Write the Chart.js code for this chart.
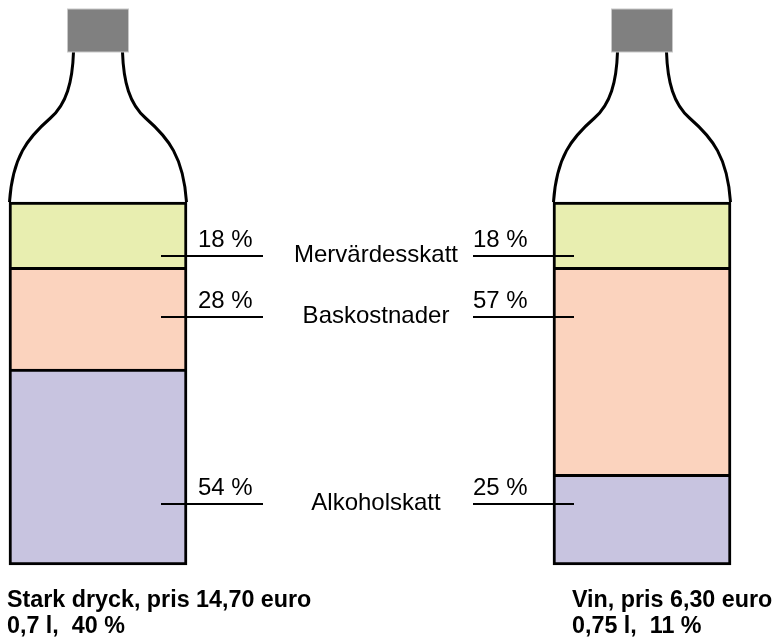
<!DOCTYPE html>
<html>
<head>
<meta charset="utf-8">
<script src="https://cdn.jsdelivr.net/npm/chart.js@4"></script>
<style>
  body { margin: 0; background: #fff; overflow: hidden; }
</style>
</head>
<body>
<canvas id="grafica" width="776" height="637"></canvas>
<script>
// data
var produkter = ['Stark dryck, pris 14,70 euro', 'Vin, pris 6,30 euro']
var detaljer = ['0,7 l,  40 %', '0,75 l,  11 %']
var komponenter = ['Alkoholskatt', 'Baskostnader', 'Mervärdesskatt']
var alkoholskatt = [54, 25]
var baskostnader = [28, 57]
var mervardesskatt = [18, 18]

var serier = [alkoholskatt, baskostnader, mervardesskatt]
var farger = ['#c8c4e0', '#fbd3be', '#e8eeb0']

var fontNormal = '24px "Liberation Sans", Arial, Helvetica, sans-serif'
var fontFet = 'bold 23.3px "Liberation Sans", Arial, Helvetica, sans-serif'

// rows where the label lines sit (in y-axis units)
var radNivaer = [16.8, 68.3, 85.1]

var flaskPlugin = {
    id: 'flaskor',
    afterDatasetsDraw: function (chart) {
        var ctx = chart.ctx
        var top = chart.scales.y.getPixelForValue(100)
        var staplar = chart.getDatasetMeta(0).data

        staplar.forEach(function (bar) {
            var L = bar.x - bar.width / 2 + 0.5
            var R = bar.x + bar.width / 2 - 0.5

            ctx.save()
            ctx.strokeStyle = '#000'
            ctx.lineWidth = 3
            // left side of neck
            ctx.beginPath()
            ctx.moveTo(L, top)
            ctx.bezierCurveTo(L + 3, top - 45, L + 18, top - 64, L + 41, top - 84)
            ctx.bezierCurveTo(L + 57, top - 98, L + 63, top - 120, L + 64, top - 150)
            ctx.stroke()
            // right side of neck
            ctx.beginPath()
            ctx.moveTo(R, top)
            ctx.bezierCurveTo(R - 3, top - 45, R - 18, top - 64, R - 41, top - 84)
            ctx.bezierCurveTo(R - 57, top - 98, R - 63, top - 120, R - 64, top - 150)
            ctx.stroke()

            // cap
            ctx.fillStyle = '#808080'
            ctx.fillRect(bar.x - 30.5, top - 193, 61, 43)
            ctx.strokeStyle = '#c8c8c8'
            ctx.lineWidth = 1
            ctx.strokeRect(bar.x - 30.5, top - 193, 61, 43)
            ctx.restore()
        })
    }
}

var etikettPlugin = {
    id: 'etiketter',
    afterDraw: function (chart) {
        var ctx = chart.ctx
        var y = chart.scales.y
        var staplar = chart.getDatasetMeta(0).data
        var v = staplar[0]
        var h = staplar[1]

        ctx.save()
        ctx.fillStyle = '#000'
        ctx.strokeStyle = '#000'
        ctx.lineWidth = 2
        ctx.textBaseline = 'alphabetic'

        for (let j = 0; j < komponenter.length; j++) {
            var py = Math.round(y.getPixelForValue(radNivaer[j]))

            var vStart = v.x + 63
            var vSlut = v.x + v.width / 2 + 76
            var hStart = h.x - h.width / 2 - 80
            var hSlut = h.x - h.width / 2 + 21

            ctx.beginPath()
            ctx.moveTo(vStart, py)
            ctx.lineTo(vSlut, py)
            ctx.moveTo(hStart, py)
            ctx.lineTo(hSlut, py)
            ctx.stroke()

            ctx.font = fontNormal
            ctx.textAlign = 'left'
            ctx.fillText(serier[j][0] + ' %', v.x + v.width / 2 + 11, py - 9)
            ctx.fillText(serier[j][1] + ' %', hStart, py - 9)

            ctx.textAlign = 'center'
            ctx.fillText(komponenter[j], (vSlut + hStart) / 2 + 8, py + 6)
        }

        // captions under the bottles
        var botten = y.getPixelForValue(0)
        var xPos = [v.x - v.width / 2 - 2, h.x - h.width / 2 + 19]
        ctx.font = fontFet
        ctx.textAlign = 'left'
        for (let i = 0; i < produkter.length; i++) {
            ctx.fillText(produkter[i], xPos[i], botten + 42)
            ctx.fillText(detaljer[i], xPos[i], botten + 68)
        }
        ctx.restore()
    }
}

var datasets = []
for (let j = 0; j < komponenter.length; j++) {
    datasets.push({
        label: komponenter[j],
        data: serier[j],
        backgroundColor: farger[j],
        borderColor: '#000',
        borderWidth: { top: 3, left: 3, right: 3, bottom: j == 0 ? 3 : 0 },
        borderSkipped: false,
        barThickness: 178,
        clip: false
    })
}

var ctx = document.getElementById('grafica').getContext('2d')
new Chart(ctx, {
    type: 'bar',
    data: {
        labels: produkter,
        datasets: datasets
    },
    options: {
        responsive: false,
        animation: false,
        layout: { padding: { left: 98, right: 134, top: 202, bottom: 72 } },
        plugins: {
            legend: { display: false },
            tooltip: { enabled: false },
            title: { display: false }
        },
        scales: {
            x: { type: 'category', offset: false, stacked: true, display: false },
            y: { stacked: true, min: 0, max: 100, display: false }
        }
    },
    plugins: [flaskPlugin, etikettPlugin]
});
</script>
</body>
</html>
